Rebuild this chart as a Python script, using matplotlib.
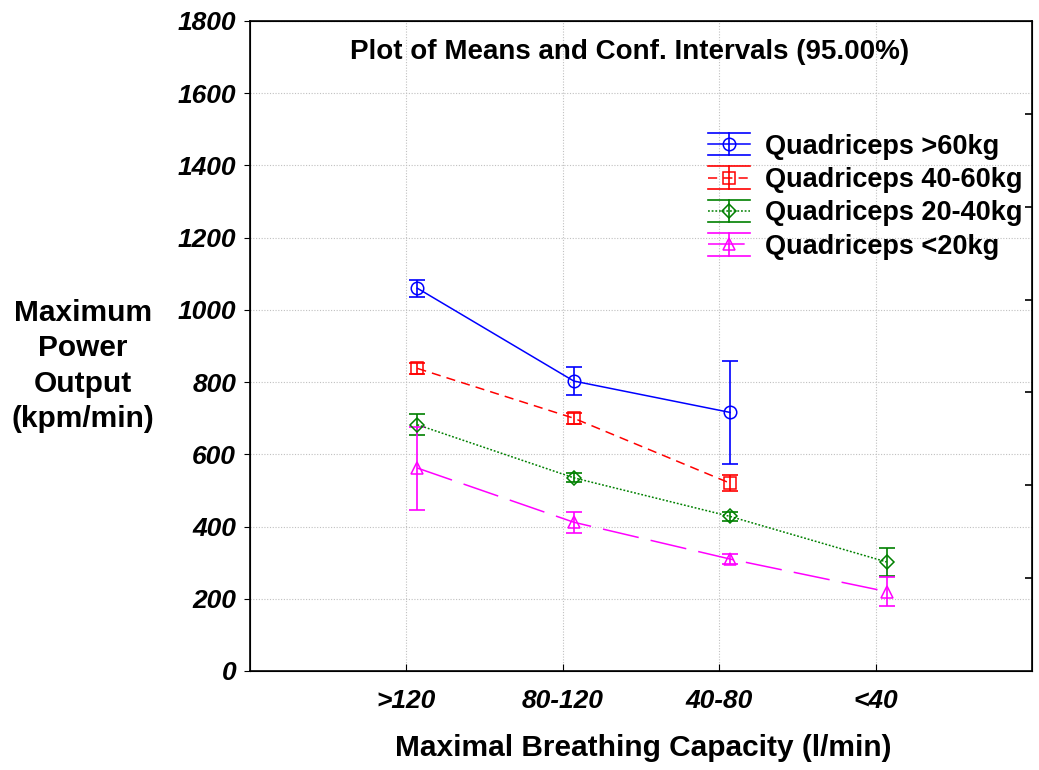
import matplotlib
matplotlib.use("Agg")
import numpy as np
import matplotlib.pyplot as plt
from matplotlib.lines import Line2D
from matplotlib.legend_handler import HandlerBase

plt.rcParams["font.family"] = ["Liberation Sans", "DejaVu Sans"]

categories = [">120", "80-120", "40-80", "<40"]

labels = ["Quadriceps >60kg", "Quadriceps 40-60kg", "Quadriceps 20-40kg", "Quadriceps <20kg"]
means_60 = [1060, 803, 716]
ci_60 = [24, 39, 142]
means_40_60 = [838, 700, 520]
ci_40_60 = [16, 15, 22]
means_20_40 = [682, 535, 428, 302]
ci_20_40 = [29, 12, 13, 40]
means_20 = [562, 412, 310, 220]
ci_20 = [115, 29, 14, 40]

series = [
    (means_60, ci_60, "#0000ff", "o", "-", 9),
    (means_40_60, ci_40_60, "#ff0000", "s", (0, (6, 4)), 8),
    (means_20_40, ci_20_40, "#008000", "D", (0, (1.2, 1.2)), 7),
    (means_20, ci_20, "#ff00ff", "^", (0, (24, 8)), 9),
]


class CIHandler(HandlerBase):
    def create_artists(self, legend, orig_handle, xdescent, ydescent,
                       width, height, fontsize, trans):
        x0, x1 = -xdescent, -xdescent + width
        y0, y1 = -ydescent, -ydescent + height
        xm, ym = (x0 + x1) / 2, (y0 + y1) / 2
        c = orig_handle.get_color()
        mid = Line2D([x0, xm, x1], [ym, ym, ym])
        mid.update_from(orig_handle)
        mid.set_markevery([1])
        vert = Line2D([xm, xm], [y0, y1], color=c, lw=1.2)
        cap_lo = Line2D([x0, x1], [y0, y0], color=c, lw=1.2)
        cap_hi = Line2D([x0, x1], [y1, y1], color=c, lw=1.2)
        arts = [vert, cap_lo, cap_hi, mid]
        for a in arts:
            a.set_transform(trans)
        return arts


fig = plt.figure(figsize=(10.39, 7.70), dpi=100)
ax = fig.add_axes([250 / 1039, 1 - 671 / 770, 782 / 1039, 650 / 770])

x = np.arange(1, len(categories) + 1)
offset = 0.07
handles = []
for (m, ci, col, mk, ls, ms), lab in zip(series, labels):
    xs = x[:len(m)] + offset
    ax.errorbar(xs, m, yerr=ci, color=col, ecolor=col, elinewidth=1.2,
                capsize=5.8, capthick=1.2, fmt="none", zorder=3)
    ax.plot(xs, m, color=col, lw=1.1, linestyle=ls, marker=mk,
            markersize=ms, markerfacecolor="none",
            markeredgecolor=col, markeredgewidth=1.1, zorder=4)
    handles.append(Line2D([], [], color=col, lw=1.1, linestyle=ls, marker=mk,
                          markersize=ms, markerfacecolor="none",
                          markeredgewidth=1.1))

ax.set_xlim(0, 5)
ax.set_ylim(0, 1800)
ax.set_xticks(x)
ax.set_xticklabels(categories)
ax.set_yticks(np.arange(0, 1801, 200))
ax.grid(True, color="#c0c0c0", linestyle=(0, (1, 1.5)), linewidth=0.8)
ax.tick_params(axis="x", direction="in", length=5, pad=13, labelsize=19)
ax.tick_params(axis="y", direction="out", length=4, pad=6, labelsize=19)
for t in ax.get_xticklabels() + ax.get_yticklabels():
    t.set_fontweight("bold")
    t.set_fontstyle("italic")
for s in ax.spines.values():
    s.set_linewidth(1.2)

ax2 = ax.twinx()
ax2.set_ylim(0, 7)
ax2.set_yticks(range(1, 7))
ax2.set_yticklabels([])
ax2.tick_params(axis="y", direction="in", length=5, width=1.2)

ax.text(0.486, 0.952, "Plot of Means and Conf. Intervals (95.00%)",
        transform=ax.transAxes, ha="center", va="center",
        fontsize=20, fontweight="bold")

fig.text(83 / 1039, 1 - 366 / 770, "Maximum\nPower\nOutput\n(kpm/min)",
         ha="center", va="center", multialignment="center",
         fontsize=21.5, fontweight="bold", linespacing=1.33)
fig.text(643 / 1039, 1 - 748 / 770, "Maximal Breathing Capacity (l/min)",
         ha="center", va="center", fontsize=21.5, fontweight="bold")

leg = fig.legend(handles, labels, loc="upper left",
                 bbox_to_anchor=(708 / 1039, 1 - 133 / 770),
                 frameon=False, fontsize=19.5, borderpad=0, borderaxespad=0,
                 handlelength=1.55, handleheight=0.9, handletextpad=0.55,
                 labelspacing=0.25, handler_map={Line2D: CIHandler()})
for t in leg.get_texts():
    t.set_fontweight("bold")

fig.savefig("out.png", dpi=100)
